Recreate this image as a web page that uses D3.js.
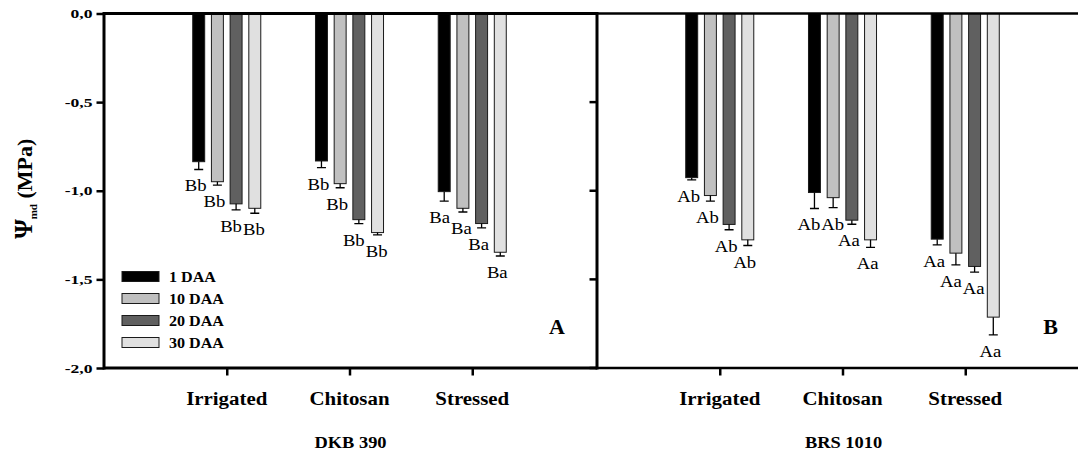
<!DOCTYPE html>
<html>
<head>
<meta charset="utf-8">
<script src="https://cdn.jsdelivr.net/npm/d3@7"></script>
<style>
  body { margin: 0; background: #fff; }
  text { font-family: "Liberation Serif", "Times New Roman", serif; fill: #000; }
</style>
</head>
<body>
<script>
var categories = ["Irrigated", "Chitosan", "Stressed"];
var seriesNames = ["1 DAA", "10 DAA", "20 DAA", "30 DAA"];
var seriesColors = ["#000000", "#c0c0c0", "#606060", "#e0e0e0"];
var cultivars = ["DKB 390", "BRS 1010"];
var panelTags = ["A", "B"];
var yTicks = [0, -0.5, -1, -1.5, -2];

// rows = series (1, 10, 20, 30 DAA), columns = categories
var dkbMeans = [
  [-0.836, -0.832, -1.005],
  [-0.949, -0.960, -1.099],
  [-1.074, -1.163, -1.185],
  [-1.099, -1.236, -1.347]
];
var dkbErrors = [
  [0.044, 0.037, 0.053],
  [0.019, 0.023, 0.021],
  [0.034, 0.023, 0.024],
  [0.028, 0.013, 0.021]
];
var dkbLetters = [
  ["Bb", "Bb", "Ba"],
  ["Bb", "Bb", "Ba"],
  ["Bb", "Bb", "Ba"],
  ["Bb", "Bb", "Ba"]
];

var brsMeans = [
  [-0.926, -1.010, -1.273],
  [-1.027, -1.039, -1.352],
  [-1.190, -1.166, -1.427],
  [-1.277, -1.277, -1.713]
];
var brsErrors = [
  [0.013, 0.090, 0.032],
  [0.032, 0.056, 0.066],
  [0.030, 0.023, 0.032],
  [0.032, 0.043, 0.100]
];
var brsLetters = [
  ["Ab", "Ab", "Aa"],
  ["Ab", "Ab", "Aa"],
  ["Ab", "Aa", "Aa"],
  ["Ab", "Aa", "Aa"]
];

/*
 * SVG helpers
 */
var translate = function(x, y) {
  return "translate(" + x + "," + y + ") ";
};

var stretch = function(sx) {
  return "scale(" + sx + ",1)";
};

// text that is drawn a little wider than the font, like the original export
var addText = function(parent, x, y, str, size, weight, anchor, sx) {
  return parent.append('text')
    .attr('transform', translate(x, y) + stretch(sx))
    .attr('text-anchor', anchor)
    .style('font-size', size + 'px')
    .style('font-weight', weight)
    .text(str);
};

var width = 1078, height = 458;
var plotTop = 13.5, plotBottom = 368;
var panelWidth = 491;
var panelX = [104, 597];
var labelStretch = 1.1;

var svg = d3.select('body').append('svg')
  .attr('width', width)
  .attr('height', height);

svg.append('rect')
  .attr('width', width)
  .attr('height', height)
  .style('fill', '#fff');

var y = d3.scaleLinear().domain([-2, 0]).range([plotBottom, plotTop]);
var x0 = d3.scalePoint().domain(categories).range([0, panelWidth]).padding(1);
var x1 = d3.scaleBand().domain(seriesNames).range([-40.75, 40.75]).padding(0.36);

var fmt = function(d) { return d.toFixed(1).replace('.', ','); };

// left value axis
var yAxis = svg.append('g')
  .attr('transform', translate(panelX[0], 0))
  .call(d3.axisLeft(y).tickValues(yTicks).tickSize(7.5).tickPadding(4).tickFormat(fmt));
yAxis.select('.domain').remove();
yAxis.selectAll('.tick line').style('stroke', '#000').style('stroke-width', 2.5);
yAxis.selectAll('.tick text')
  .attr('x', -11.5 / 1.35)
  .attr('transform', stretch(1.35))
  .style('font-family', '"Liberation Serif", serif')
  .style('font-size', '13px')
  .style('font-weight', 'bold');

// inward ticks on the divider between the two panels
svg.selectAll('.midTick')
  .data(yTicks)
  .enter()
  .append('line')
  .attr('x1', panelX[1] - 7.5)
  .attr('x2', panelX[1])
  .attr('y1', function(d) { return y(d); })
  .attr('y2', function(d) { return y(d); })
  .style('stroke', '#000')
  .style('stroke-width', 2.5);

// y title
var title = svg.append('text')
  .attr('transform', translate(32, (plotTop + plotBottom) / 2 - 2) + 'rotate(-90)')
  .attr('text-anchor', 'middle')
  .style('font-size', '22px')
  .style('font-weight', 'bold');
title.append('tspan').style('font-size', '25px').text('\u03a8');
title.append('tspan').style('font-size', '11px').attr('dy', 5).text('md');
title.append('tspan').attr('dy', -5).text(' (MPa)');

var panels = [
  { means: dkbMeans, errors: dkbErrors, letters: dkbLetters },
  { means: brsMeans, errors: brsErrors, letters: brsLetters }
];

panels.forEach(function(p, pi) {
  var g = svg.append('g').attr('transform', translate(panelX[pi], 0));

  var rows = [];
  p.means.forEach(function(row, si) {
    row.forEach(function(v, ci) {
      rows.push({
        series: seriesNames[si],
        color: seriesColors[si],
        cat: categories[ci],
        mean: v,
        err: p.errors[si][ci],
        letter: p.letters[si][ci]
      });
    });
  });

  var barX = function(d) { return x0(d.cat) + x1(d.series); };
  var barC = function(d) { return barX(d) + x1.bandwidth() / 2; };

  g.selectAll('.bar')
    .data(rows)
    .enter()
    .append('rect')
    .attr('class', 'bar')
    .attr('x', barX)
    .attr('y', y(0))
    .attr('width', x1.bandwidth())
    .attr('height', function(d) { return y(d.mean) - y(0); })
    .style('fill', function(d) { return d.color; })
    .style('stroke', '#1a1a1a')
    .style('stroke-width', 1);

  // error bars, downward only
  g.selectAll('.err')
    .data(rows)
    .enter()
    .append('path')
    .attr('d', function(d) {
      var c = barC(d), y1 = y(d.mean), y2 = y(d.mean - d.err);
      return "M" + c + "," + y1 + "V" + y2 + "M" + (c - 4.5) + "," + y2 + "H" + (c + 4.5);
    })
    .style('fill', 'none')
    .style('stroke', '#000')
    .style('stroke-width', 1.3);

  // significance letters under each error bar
  rows.forEach(function(d) {
    d.lx = barC(d) - 3;
    d.ly = y(d.mean - d.err) + 22;
    d.node = addText(g, d.lx, d.ly, d.letter, 17, 'normal', 'middle', labelStretch);
    d.w = d.node.node().getComputedTextLength() * labelStretch;
  });

  // push neighbours apart where two letters would collide
  categories.forEach(function(c) {
    var items = rows.filter(function(d) { return d.cat === c; });
    for (var i = 1; i < items.length; i++) {
      var a = items[i - 1], b = items[i];
      var need = (a.w + b.w) / 2 + 1;
      if (Math.abs(b.ly - a.ly) < 12 && b.lx - a.lx < need) {
        var deficit = need - (b.lx - a.lx);
        a.lx -= deficit / 2;
        b.lx += deficit / 2;
      }
    }
    items.forEach(function(d) {
      d.node.attr('transform', translate(d.lx, d.ly) + stretch(labelStretch));
    });
  });

  // category axis
  var xAxis = g.append('g')
    .attr('transform', translate(0, plotBottom))
    .call(d3.axisBottom(x0).tickSize(7.5).tickFormat(''));
  xAxis.select('.domain').remove();
  xAxis.selectAll('.tick line').style('stroke', '#000').style('stroke-width', 2.5);

  categories.forEach(function(c) {
    addText(g, x0(c), 405, c, 19, 'bold', 'middle', 1.1);
  });
  addText(g, panelWidth / 2 + 1, 448, cultivars[pi], 16, 'bold', 'middle', 1.15);
  addText(g, panelWidth - 30, 333.5, panelTags[pi], 22, 'bold', 'end', 1);

  // frame
  var lw = pi === 0 ? 3 : 2.5;
  g.append('line')
    .attr('x1', 0).attr('x2', pi === 0 ? panelX[1] - panelX[0] : width)
    .attr('y1', plotTop).attr('y2', plotTop)
    .style('stroke', '#000').style('stroke-width', lw);
  g.append('line')
    .attr('x1', 0).attr('x2', pi === 0 ? panelX[1] - panelX[0] : width)
    .attr('y1', plotBottom).attr('y2', plotBottom)
    .style('stroke', '#000').style('stroke-width', lw);
  g.append('line')
    .attr('x1', 0).attr('x2', 0)
    .attr('y1', plotTop - 1.5).attr('y2', plotBottom + 1.5)
    .style('stroke', '#000').style('stroke-width', 3);
});

// legend
var legend = svg.append('g')
  .attr('transform', translate(panelX[0] + 18, 271.5));

seriesNames.forEach(function(s, i) {
  legend.append('rect')
    .attr('x', 0)
    .attr('y', i * 22)
    .attr('width', 37)
    .attr('height', 10)
    .style('fill', seriesColors[i])
    .style('stroke', '#1a1a1a')
    .style('stroke-width', 1);
  addText(legend, 47, i * 22 + 10.5, s, 14, 'bold', 'start', 1.15);
});
</script>
</body>
</html>
